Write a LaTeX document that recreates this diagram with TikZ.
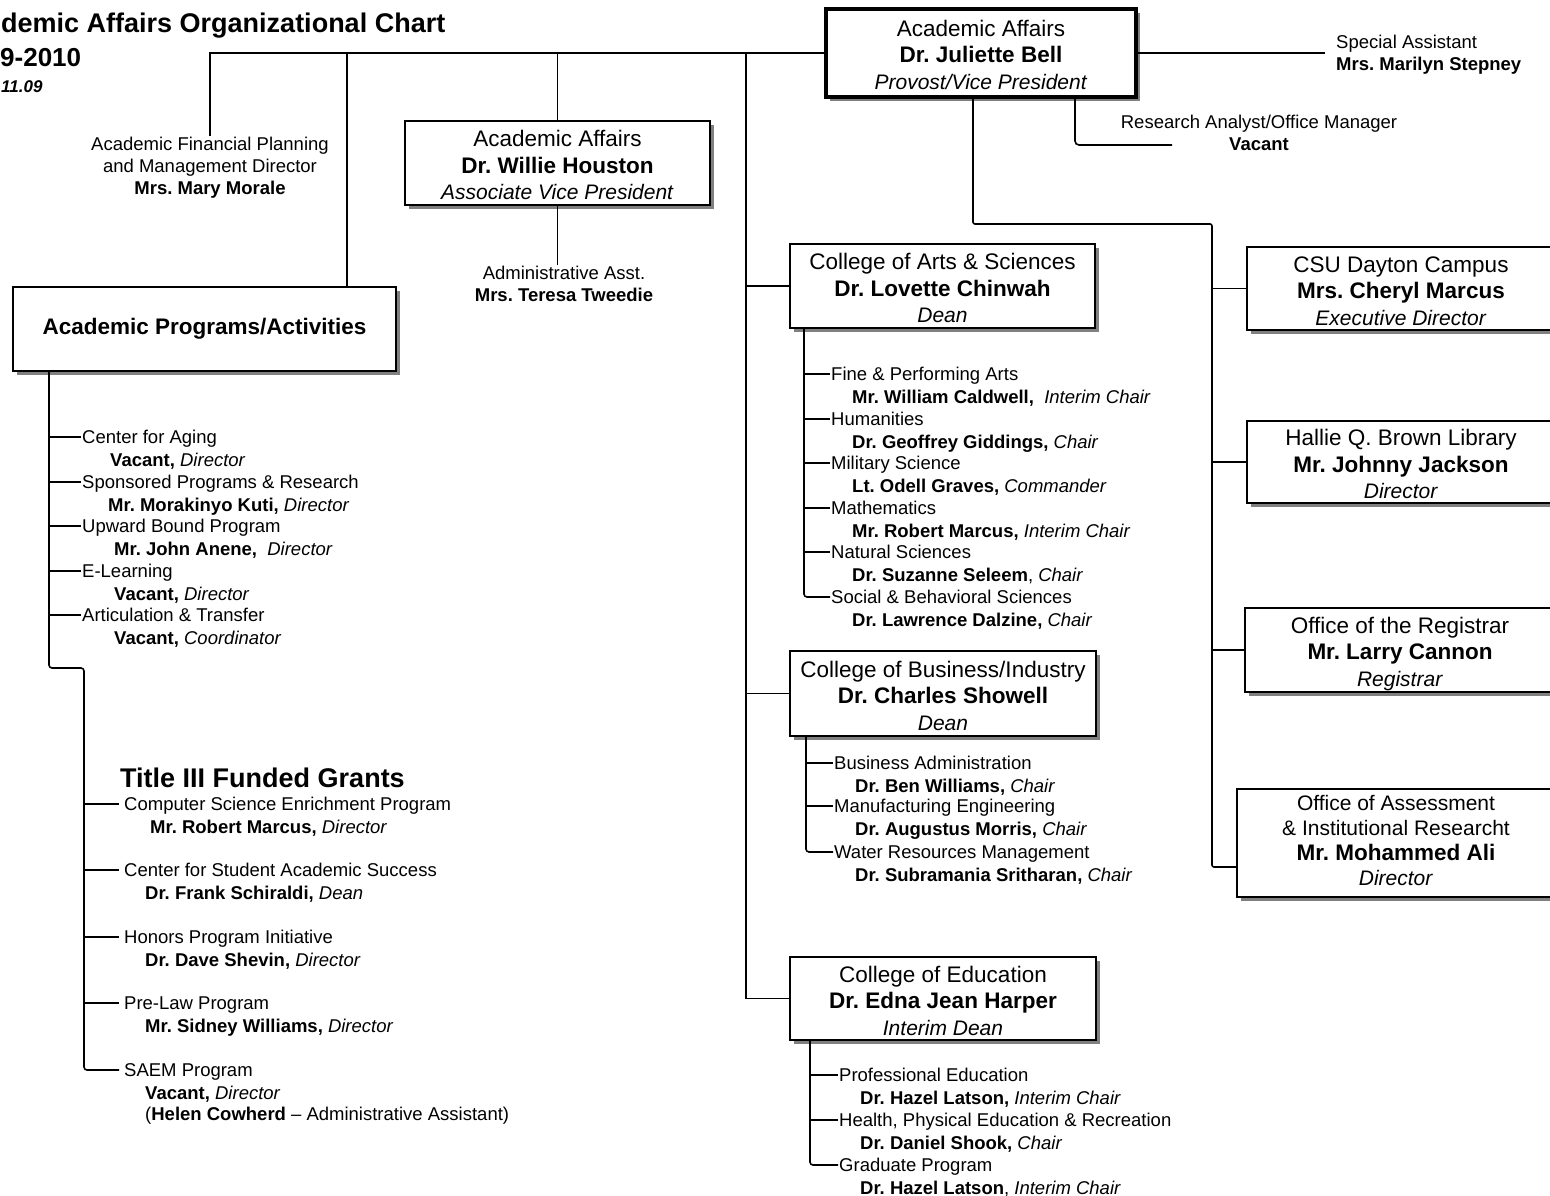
\documentclass[tikz,border=0pt]{standalone}
\usepackage{fontspec}
\setmainfont{Liberation Sans}
\usetikzlibrary{shadows}
\frenchspacing
\newcommand\nm[1]{{\fontsize{22.5}{26.5}\selectfont\bfseries #1}}
\newcommand\bx[3]{\rule{0pt}{24pt}{\fontsize{22.5}{26.5}\selectfont #1}\\\nm{#2}\\\textit{#3}\rule[-4pt]{0pt}{4pt}}
\newcommand\oitem[6]{%
  \node[itm] (#1) at (#2,{#3+6.5}) {#4};
  \node[itm] (#1b) at ({#2+#5},{#3+29}) {#6};}
\tikzset{
  orgbox/.style={draw=black, line width=1.8pt, fill=white, align=center, inner sep=0pt,
    drop shadow={shadow xshift=4pt, shadow yshift=-4pt, fill=black!50, draw=none, opacity=1},
    font=\fontsize{21}{26.5}\selectfont\frenchspacing},
  conn/.style={draw=black, line width=1.6pt},
  itm/.style={anchor=base west, inner sep=1pt, text height=13pt, text depth=0pt,
    font=\fontsize{18.5}{22}\selectfont\frenchspacing},
  lbl/.style={align=center, inner sep=1pt, font=\fontsize{18.5}{22}\selectfont\frenchspacing},
  ttl/.style={anchor=base west, inner sep=0pt, font=\fontsize{27}{30}\selectfont\bfseries},
}
\begin{document}
\begin{tikzpicture}[x=1pt,y=-1pt]
\useasboundingbox (0,0) rectangle (1550,1196);
\fill[white] (0,0) rectangle (1550,1196);

% titles
\node[ttl] (title) at (1,33) {demic Affairs Organizational Chart};
\node[ttl, font=\fontsize{26}{30}\selectfont\bfseries] (yr) at (0,67) {9-2010};
\node[ttl, font=\fontsize{17}{20}\selectfont\bfseries\itshape] (rev) at (1,93) {11.09};

% boxes
\node[orgbox, line width=3.5pt, minimum width=310pt, minimum height=88pt] (main) at (981,53)
  {\bx{Academic Affairs}{Dr. Juliette Bell}{Provost/Vice President}};
\node[orgbox, minimum width=305pt, minimum height=84pt] (hou) at (557.5,163)
  {\bx{Academic Affairs}{Dr. Willie Houston}{Associate Vice President}};
\node[orgbox, minimum width=383pt, minimum height=84pt, font=\fontsize{22.5}{26}\selectfont\bfseries] (prog) at (204.5,329)
  {Academic Programs/Activities};
\node[orgbox, minimum width=305pt, minimum height=84pt] (cas) at (942.5,286)
  {\bx{College of Arts \& Sciences}{Dr. Lovette Chinwah}{Dean}};
\node[orgbox, minimum width=306pt, minimum height=85pt] (cbi) at (943,693.5)
  {\bx{College of Business/Industry}{Dr. Charles Showell}{Dean}};
\node[orgbox, minimum width=306pt, minimum height=83pt] (coe) at (943,998.5)
  {\bx{College of Education}{Dr. Edna Jean Harper}{Interim Dean}};
\node[orgbox, minimum width=308pt, minimum height=83pt] (csu) at (1401,288.5)
  {\bx{CSU Dayton Campus}{Mrs. Cheryl Marcus}{Executive Director}};
\node[orgbox, minimum width=308pt, minimum height=82pt] (lib) at (1401,462)
  {\bx{Hallie Q. Brown Library}{Mr. Johnny Jackson}{Director}};
\node[orgbox, minimum width=310pt, minimum height=84pt] (reg) at (1400,650)
  {\bx{Office of the Registrar}{Mr. Larry Cannon}{Registrar}};
\node[orgbox, minimum width=318pt, minimum height=108pt, font=\fontsize{21}{25}\selectfont\frenchspacing] (asr) at (1396,843)
  {\rule{0pt}{18pt}Office of Assessment\\\& Institutional Researcht\\\nm{Mr. Mohammed Ali}\\\textit{Director}\rule[-8pt]{0pt}{8pt}};

% free labels
\node[lbl] (afp) at (210,167.5) {Academic Financial Planning\\and Management Director\\\textbf{Mrs. Mary Morale}};
\node[lbl] (adm) at (564,283.5) {Administrative Asst.\\\textbf{Mrs. Teresa Tweedie}};
\node[lbl, align=left, anchor=west] (spa) at (1335,55) {Special Assistant\\\textbf{Mrs. Marilyn Stepney}};
\node[lbl] (ram) at (1259,133) {Research Analyst/Office Manager\\\textbf{Vacant}};

% list under Academic Programs
\oitem{ca}{81}{437}{Center for Aging}{28}{\textbf{Vacant,} \textit{Director}}
\oitem{spr}{81}{482}{Sponsored Programs \& Research}{26}{\textbf{Mr. Morakinyo Kuti,} \textit{Director}}
\oitem{ub}{81}{526}{Upward Bound Program}{32}{\textbf{Mr. John Anene,} \ \textit{Director}}
\oitem{el}{81}{571}{E-Learning}{32}{\textbf{Vacant,} \textit{Director}}
\oitem{at}{81}{615}{Articulation \& Transfer}{32}{\textbf{Vacant,} \textit{Coordinator}}

\node[ttl] (t3) at (120,787) {Title III Funded Grants};
\oitem{cse}{123}{804}{Computer Science Enrichment Program}{26}{\textbf{Mr. Robert Marcus,} \textit{Director}}
\oitem{cssa}{123}{870}{Center for Student Academic Success}{21}{\textbf{Dr. Frank Schiraldi,} \textit{Dean}}
\oitem{hpi}{123}{937}{Honors Program Initiative}{21}{\textbf{Dr. Dave Shevin,} \textit{Director}}
\oitem{plp}{123}{1003}{Pre-Law Program}{21}{\textbf{Mr. Sidney Williams,} \textit{Director}}
\oitem{saem}{123}{1070}{SAEM Program}{21}{\textbf{Vacant,} \textit{Director}}
\node[itm] (saemc) at (144,{1114+6.5}) {(\textbf{Helen Cowherd} – Administrative Assistant)};

% CAS departments
\oitem{fpa}{830}{374}{Fine \& Performing Arts}{21}{\textbf{Mr. William Caldwell,} \ \textit{Interim Chair}}
\oitem{hum}{830}{419}{Humanities}{21}{\textbf{Dr. Geoffrey Giddings,} \textit{Chair}}
\oitem{mil}{830}{463}{Military Science}{21}{\textbf{Lt. Odell Graves,} \textit{Commander}}
\oitem{mat}{830}{508}{Mathematics}{21}{\textbf{Mr. Robert Marcus,} \textit{Interim Chair}}
\oitem{nat}{830}{552}{Natural Sciences}{21}{\textbf{Dr. Suzanne Seleem}, \textit{Chair}}
\oitem{sbs}{830}{597}{Social \& Behavioral Sciences}{21}{\textbf{Dr. Lawrence Dalzine,} \textit{Chair}}

% CBI departments
\oitem{ba}{833}{763}{Business Administration}{21}{\textbf{Dr. Ben Williams,} \textit{Chair}}
\oitem{me}{833}{806}{Manufacturing Engineering}{21}{\textbf{Dr. Augustus Morris,} \textit{Chair}}
\oitem{wrm}{833}{852}{Water Resources Management}{21}{\textbf{Dr. Subramania Sritharan,} \textit{Chair}}

% COE departments
\oitem{pe}{838}{1075}{Professional Education}{21}{\textbf{Dr. Hazel Latson,} \textit{Interim Chair}}
\oitem{hper}{838}{1120}{Health, Physical Education \& Recreation}{21}{\textbf{Dr. Daniel Shook,} \textit{Chair}}
\oitem{gp}{838}{1165}{Graduate Program}{21}{\textbf{Dr. Hazel Latson}, \textit{Interim Chair}}

% connectors: top
\coordinate (tl) at (209,53);
\coordinate (j2) at (347,53);
\coordinate (sp) at (746,53);
\draw[conn] (tl) -- (main.west);
\draw[conn] (tl -| afp) -- (afp.north);
\draw[conn] (j2) -- (j2 |- prog.north);
\draw[conn] (tl -| hou) -- (hou.north);
\draw[conn] (hou.south) -- (hou.south |- adm.north);
\draw[conn] (sp) -- (sp |- coe.west) -- (coe.west);
\draw[conn] (sp |- cas.west) -- (cas.west);
\draw[conn] (sp |- cbi.west) -- (cbi.west);

% main box right side
\draw[conn, shorten >=10pt] (main.east) -- (main.east -| spa.west);
\coordinate (rx) at (1075,145);
\coordinate (re) at (1172,145);
\draw[conn, rounded corners=4pt] (main.south -| rx) -- (rx) -- (re);
\coordinate (ms) at (973,224);
\coordinate (rs) at (1212,224);
\coordinate (rb) at (1212,867);
\draw[conn, rounded corners=2pt] (main.south -| ms) -- (ms) -- (rs) -- (rb) -- (rb -| asr.west);
\draw[conn] (rs |- csu.west) -- (csu.west);
\draw[conn] (rs |- lib.west) -- (lib.west);
\draw[conn] (rs |- reg.west) -- (reg.west);

% left spine
\coordinate (l1) at (49,668);
\coordinate (l2) at (84,668);
\draw[conn, rounded corners=3pt] (prog.south -| l1) -- (l1) -- (l2) -- (l2 |- saem.west) -- ([xshift=-4pt]saem.west);
\foreach \n in {ca,spr,ub,el,at} \draw[conn] (l1 |- \n.west) -- (\n.west);
\foreach \n in {cse,cssa,hpi,plp} \draw[conn, shorten >=4pt] (l2 |- \n.west) -- (\n.west);

% college spines
\coordinate (cs) at (804,0);
\draw[conn, rounded corners=3pt] (cas.south -| cs) -- (cs |- sbs.west) -- (sbs.west);
\foreach \n in {fpa,hum,mil,mat,nat} \draw[conn] (cs |- \n.west) -- (\n.west);
\coordinate (cb) at (806,0);
\draw[conn, rounded corners=3pt] (cbi.south -| cb) -- (cb |- wrm.west) -- (wrm.west);
\foreach \n in {ba,me} \draw[conn] (cb |- \n.west) -- (\n.west);
\coordinate (ce) at (810,0);
\draw[conn, rounded corners=3pt] (coe.south -| ce) -- (ce |- gp.west) -- (gp.west);
\foreach \n in {pe,hper} \draw[conn] (ce |- \n.west) -- (\n.west);
\end{tikzpicture}
\end{document}
